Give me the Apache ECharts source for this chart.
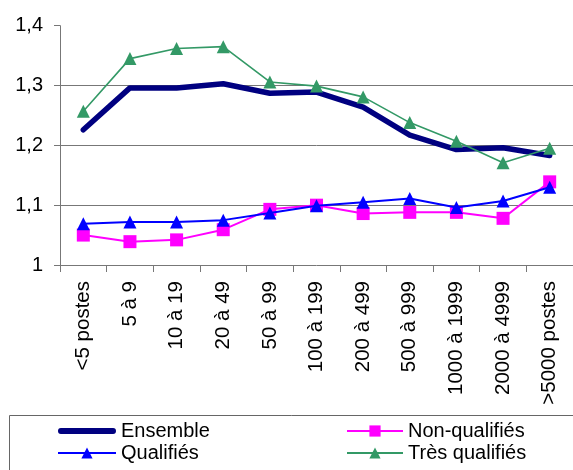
<!DOCTYPE html>
<html>
<head>
<meta charset="utf-8">
<script src="https://cdn.jsdelivr.net/npm/echarts@6/dist/echarts.min.js"></script>
<style>
html,body{margin:0;padding:0;background:#fff;}
#c{width:573px;height:470px;}
</style>
</head>
<body>
<div id="c"></div>
<script>
var categories = ['<5 postes','5 à 9','10 à 19','20 à 49','50 à 99','100 à 199','200 à 499','500 à 999','1000 à 1999','2000 à 4999','>5000 postes'];
var ensemble = [1.226,1.296,1.296,1.303,1.287,1.289,1.264,1.217,1.193,1.196,1.183];
var nonQualifies = [1.050,1.039,1.042,1.059,1.093,1.100,1.086,1.088,1.088,1.078,1.139];
var qualifies = [1.069,1.072,1.072,1.075,1.087,1.099,1.105,1.111,1.096,1.107,1.130];
var tresQualifies = [1.257,1.345,1.362,1.365,1.306,1.299,1.281,1.238,1.207,1.171,1.195];
var seriesNames = ['Ensemble','Non-qualifiés','Qualifiés','Très qualifiés'];

var FONT = 'Liberation Sans, Arial, sans-serif';
var chart = echarts.init(document.getElementById('c'));
var legendText = {color:'#000', fontFamily:FONT, fontSize:20, lineHeight:22};
chart.setOption({
  animation:false,
  backgroundColor:'#fff',
  grid:{left:60, right:-11, top:25.7, bottom:205, containLabel:false},
  xAxis:{
    type:'category', data:categories, boundaryGap:true,
    axisLine:{lineStyle:{color:'#777', width:1}},
    axisTick:{show:true, length:7, lineStyle:{color:'#777'}},
    axisLabel:{rotate:90, interval:0, margin:16, color:'#000', fontFamily:FONT, fontSize:20.5}
  },
  yAxis:{
    type:'value', min:1, max:1.4, interval:0.1,
    axisLine:{show:true, lineStyle:{color:'#777', width:1}},
    axisTick:{show:true, length:6, lineStyle:{color:'#777'}},
    axisLabel:{margin:17, color:'#000', fontFamily:FONT, fontSize:20,
      formatter:function(v){return String(Math.round(v*10)/10).replace('.', ',');}},
    splitLine:{show:true, showMaxLine:false, showMinLine:false, lineStyle:{color:'#777', width:1}}
  },
  legend:[
    {orient:'vertical', left:57, top:420, padding:0, itemGap:0, itemWidth:58, itemHeight:14,
     symbolKeepAspect:true, textStyle:legendText,
     data:[{name:seriesNames[0], icon:'path://M5,0h90a5,5 0 0 1 0,10h-90a5,5 0 0 1 0,-10z'}, seriesNames[2]]},
    {orient:'vertical', left:346, top:420, padding:0, itemGap:0, itemWidth:56, itemHeight:14,
     textStyle:legendText, data:[seriesNames[1], seriesNames[3]]}
  ],
  graphic:[{type:'rect', silent:true, shape:{x:9.5, y:415.5, width:700, height:100},
    style:{fill:'none', stroke:'#666', lineWidth:1}}],
  series:[
    {name:seriesNames[0], type:'line', data:ensemble, symbol:'none', z:2,
     lineStyle:{color:'#000080', width:5.5, cap:'round', join:'round'}, itemStyle:{color:'#000080'}},
    {name:seriesNames[1], type:'line', data:nonQualifies, symbol:'rect', symbolSize:13, z:3,
     lineStyle:{color:'#FF00FF', width:2}, itemStyle:{color:'#FF00FF'}},
    {name:seriesNames[2], type:'line', data:qualifies, symbol:'triangle', symbolSize:13, z:4,
     lineStyle:{color:'#0000FF', width:2}, itemStyle:{color:'#0000FF'}},
    {name:seriesNames[3], type:'line', data:tresQualifies, symbol:'triangle', symbolSize:13, z:5,
     lineStyle:{color:'#339966', width:1.6}, itemStyle:{color:'#339966'}}
  ]
});
</script>
</body>
</html>
